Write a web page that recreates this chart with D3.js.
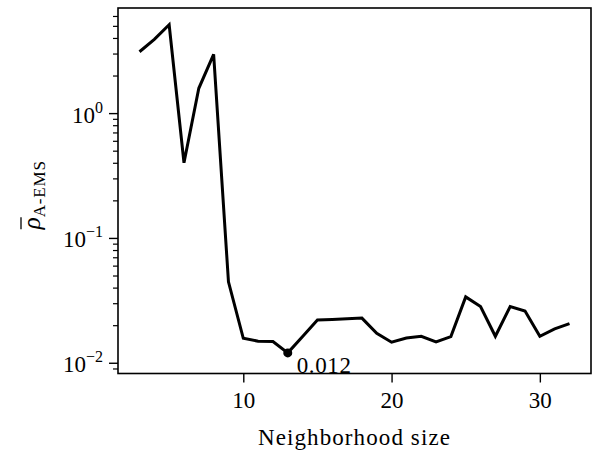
<!DOCTYPE html>
<html>
<head>
<meta charset="utf-8">
<script src="https://cdn.jsdelivr.net/npm/d3@7/dist/d3.min.js"></script>
<style>
  html, body { margin: 0; padding: 0; background: #fff; }
  svg { display: block; }
  text { font-family: "Liberation Serif", "DejaVu Serif", serif; fill: #000; }
</style>
</head>
<body>
<svg id="chart" width="600" height="450"></svg>
<script>
// Neighborhood size vs. mean A-EMS value
const sizes = [3, 4, 5, 6, 7, 8, 9, 10, 11, 12, 13, 14, 15, 16, 17, 18, 19, 20,
               21, 22, 23, 24, 25, 26, 27, 28, 29, 30, 31, 32];
const rhoValues = [3.1, 3.9, 5.1, 0.40, 1.58, 2.95, 0.0445, 0.0157, 0.0149, 0.0148,
                   0.012, 0.0162, 0.0220, 0.0222, 0.0225, 0.0228, 0.0172, 0.0146,
                   0.0158, 0.0163, 0.0147, 0.0162, 0.0337, 0.0282, 0.0163, 0.0282,
                   0.0260, 0.0163, 0.0187, 0.0206];
const xTicks = [10, 20, 30];
const yTickExponents = [-2, -1, 0];
const minIndex = 10;            // position of the minimum in the arrays
const minLabel = "0.012";

const svg = d3.select("#chart");
const plotLeft = 118, plotRight = 591, plotTop = 8, plotBottom = 373.5;
const fs = 23;

const x = d3.scaleLinear().domain([1.55, 33.45]).range([plotLeft, plotRight]);
const y = d3.scaleLog().domain([Math.pow(10, -2.086), Math.pow(10, 0.842)]).range([plotBottom, plotTop]);

// minor log ticks inside the domain
const minor = [];
for (let e = -3; e <= 0; e++) {
  for (let m = 2; m <= 9; m++) {
    const v = m * Math.pow(10, e);
    if (v >= y.domain()[0] && v <= y.domain()[1]) minor.push(v);
  }
}

// x axis
const xAxis = svg.append("g")
  .attr("transform", `translate(0,${plotBottom})`)
  .call(d3.axisBottom(x).tickValues(xTicks).tickSize(9).tickPadding(8).tickFormat(d3.format("d")));
xAxis.select(".domain").remove();
xAxis.selectAll(".tick line").attr("stroke", "#000").attr("stroke-width", 1.4);
xAxis.selectAll(".tick text").attr("font-size", fs).attr("font-family", "Liberation Serif").attr("dy", "0.75em");

// y axis, minor ticks
const yMinor = svg.append("g")
  .attr("transform", `translate(${plotLeft},0)`)
  .call(d3.axisLeft(y).tickValues(minor).tickSize(5).tickFormat(""));
yMinor.select(".domain").remove();
yMinor.selectAll(".tick line").attr("stroke", "#000").attr("stroke-width", 1.2);

// y axis, major ticks with power-of-ten labels
const yMajor = svg.append("g")
  .attr("transform", `translate(${plotLeft},0)`)
  .call(d3.axisLeft(y).tickValues(yTickExponents.map(e => Math.pow(10, e))).tickSize(9).tickPadding(6).tickFormat(""));
yMajor.select(".domain").remove();
yMajor.selectAll(".tick line").attr("stroke", "#000").attr("stroke-width", 1.4);
yMajor.selectAll(".tick text").each(function(d) {
  const ex = Math.round(Math.log10(d));
  const t = d3.select(this)
    .attr("font-size", fs).attr("font-family", "Liberation Serif")
    .attr("dy", null).attr("y", 9);
  t.text(null);
  t.append("tspan").text("10");
  t.append("tspan").attr("font-size", 16).attr("dy", -10)
    .text(ex === 0 ? "0" : "\u2212" + Math.abs(ex));
});

// frame
svg.append("rect")
  .attr("x", plotLeft).attr("y", plotTop)
  .attr("width", plotRight - plotLeft).attr("height", plotBottom - plotTop)
  .attr("fill", "none").attr("stroke", "#000").attr("stroke-width", 1.6);

// series line
const line = d3.line().x((d, i) => x(sizes[i])).y(d => y(d));
svg.append("path")
  .datum(rhoValues)
  .attr("d", line)
  .attr("fill", "none").attr("stroke", "#000").attr("stroke-width", 3)
  .attr("stroke-linejoin", "miter");

// minimum marker and annotation
const mx = x(sizes[minIndex]), my = y(rhoValues[minIndex]);
svg.append("circle").attr("cx", mx).attr("cy", my).attr("r", 4.5).attr("fill", "#000");
svg.append("text")
  .attr("x", mx + 9).attr("y", my + 20)
  .attr("font-size", fs).attr("fill", "#1a1a1a").attr("letter-spacing", 0.6)
  .text(minLabel);

// x label
svg.append("text")
  .attr("x", (plotLeft + plotRight) / 2).attr("y", 445)
  .attr("text-anchor", "middle").attr("font-size", fs).attr("letter-spacing", 1.1)
  .text("Neighborhood size");

// y label: rho with overline and roman subscript
const yl = svg.append("g").attr("transform", `translate(40,${(plotTop + plotBottom) / 2 + 4}) rotate(-90)`);
const ylt = yl.append("text").attr("font-size", 25).attr("text-anchor", "middle");
ylt.append("tspan").attr("font-style", "italic").text("\u03C1");
ylt.append("tspan").attr("font-size", 17).attr("dy", 5).attr("letter-spacing", 0.8).text("A-EMS");
const bb = ylt.node().getBBox();
const rhoLen = ylt.node().getSubStringLength(0, 1);
yl.append("line")
  .attr("x1", bb.x + 1).attr("x2", bb.x + rhoLen + 1)
  .attr("y1", -19).attr("y2", -19)
  .attr("stroke", "#000").attr("stroke-width", 1.3);
</script>
</body>
</html>
